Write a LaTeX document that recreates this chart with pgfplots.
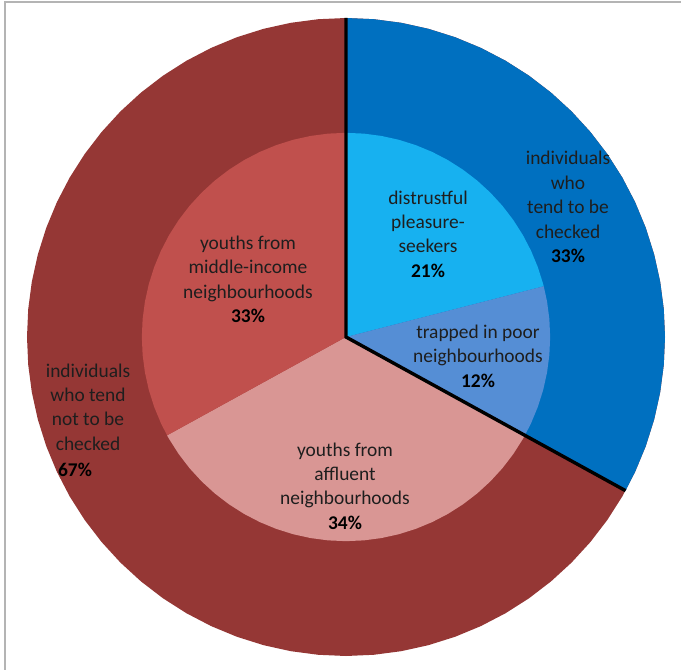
\documentclass[border=0pt]{standalone}
\usepackage{pgfplots}
\pgfplotsset{compat=1.18}
\usepgfplotslibrary{polar}
\usepackage{fontspec}
\setmainfont{Carlito}
\definecolor{outred}{HTML}{953735}
\definecolor{outblue}{HTML}{0070C0}
\definecolor{lblue}{HTML}{17B1F0}
\definecolor{mblue}{HTML}{558ED5}
\definecolor{midred}{HTML}{C0504D}
\definecolor{pink}{HTML}{D99694}
\definecolor{txt}{HTML}{1E1E1E}
\definecolor{frame}{HTML}{B4B4B4}
\begin{document}
\begin{tikzpicture}
\useasboundingbox (0,0) rectangle (681bp,670bp);
\fill[white] (0,0) rectangle (681bp,670bp);
\draw[frame, line width=2bp] (5bp,-20bp) -- (5bp,668bp) -- (700bp,668bp);
\begin{polaraxis}[hide axis, scale only axis, width=638bp, height=638bp,
  ymin=0, ymax=1, at={(346bp,333bp)}, anchor=origin, clip=false]
% outer ring: individuals who tend not to be checked (67%)
\addplot[draw=none, fill=outred] coordinates {
(0,1) (5,1) (10,1) (15,1) (20,1) (25,1) (30,1) (35,1) (40,1) (45,1) (50,1) (55,1) (60,1) (65,1) (70,1) (75,1) (80,1) (85,1) (90,1)
(95,1) (100,1) (105,1) (110,1) (115,1) (120,1) (125,1) (130,1) (135,1) (140,1) (145,1) (150,1) (155,1) (160,1) (165,1) (170,1) (175,1) (180,1)
(185,1) (190,1) (195,1) (200,1) (205,1) (210,1) (215,1) (220,1) (225,1) (230,1) (235,1) (240,1) (245,1) (250,1) (255,1) (260,1) (265,1) (270,1)
(275,1) (280,1) (285,1) (290,1) (295,1) (300,1) (305,1) (310,1) (315,1) (320,1) (325,1) (330,1) (335,1) (340,1) (345,1) (350,1) (355,1) (360,1)} --cycle;
% outer ring: individuals who tend to be checked (33%)
\addplot[draw=none, fill=outblue] coordinates {
(0,0) (90,1) (85,1) (80,1) (75,1) (70,1) (65,1) (60,1) (55,1) (50,1) (45,1) (40,1) (35,1) (30,1) (25,1) (20,1) (15,1) (10,1) (5,1) (0,1)
(-5,1) (-10,1) (-15,1) (-20,1) (-25,1) (-28.8,1) (0,0)} --cycle;
% inner: distrustful pleasure-seekers 21%
\addplot[draw=none, fill=lblue] coordinates {
(0,0) (90,0.64) (85,0.64) (80,0.64) (75,0.64) (70,0.64) (65,0.64) (60,0.64) (55,0.64) (50,0.64) (45,0.64) (40,0.64) (35,0.64) (30,0.64) (25,0.64) (20,0.64) (15,0.64) (14.4,0.64) (0,0)} --cycle;
% inner: trapped in poor neighbourhoods 12%
\addplot[draw=none, fill=mblue] coordinates {
(0,0) (14.4,0.64) (10,0.64) (5,0.64) (0,0.64) (-5,0.64) (-10,0.64) (-15,0.64) (-20,0.64) (-25,0.64) (-28.8,0.64) (0,0)} --cycle;
% inner: youths from affluent neighbourhoods 34%
\addplot[draw=none, fill=pink] coordinates {
(0,0) (-28.8,0.64) (-30,0.64) (-35,0.64) (-40,0.64) (-45,0.64) (-50,0.64) (-55,0.64) (-60,0.64) (-65,0.64) (-70,0.64) (-75,0.64) (-80,0.64) (-85,0.64) (-90,0.64)
(-95,0.64) (-100,0.64) (-105,0.64) (-110,0.64) (-115,0.64) (-120,0.64) (-125,0.64) (-130,0.64) (-135,0.64) (-140,0.64) (-145,0.64) (-150,0.64) (-151.2,0.64) (0,0)} --cycle;
% inner: youths from middle-income neighbourhoods 33%
\addplot[draw=none, fill=midred] coordinates {
(0,0) (-151.2,0.64) (-155,0.64) (-160,0.64) (-165,0.64) (-170,0.64) (-175,0.64) (-180,0.64) (-185,0.64) (-190,0.64) (-195,0.64) (-200,0.64) (-205,0.64) (-210,0.64)
(-215,0.64) (-220,0.64) (-225,0.64) (-230,0.64) (-235,0.64) (-240,0.64) (-245,0.64) (-250,0.64) (-255,0.64) (-260,0.64) (-265,0.64) (-270,0.64) (0,0)} --cycle;
% black separator
\addplot[black, line width=3.4bp, line join=miter] coordinates {(90,1) (0,0) (-28.8,1)};
\end{polaraxis}
\begin{scope}[every node/.style={align=center, text=txt, font=\fontsize{19.5}{24.5}\selectfont, inner sep=0pt}]
\node at (568bp,463bp) {individuals\\who\\tend to be\\checked\\\textbf{\textcolor{black}{33\%}}};
\node at (428bp,436bp) {distrustful\\pleasure-\\seekers\\\textbf{\textcolor{black}{21\%}}};
\node at (478bp,314bp) {trapped in poor\\neighbourhoods\\\textbf{\textcolor{black}{12\%}}};
\node at (248bp,390.5bp) {youths from\\middle-income\\neighbourhoods\\\textbf{\textcolor{black}{33\%}}};
\node at (88bp,263bp) {individuals\\who tend\\not to be\\checked};
\node at (75bp,200bp) {\textbf{\textcolor{black}{67\%}}};
\node at (345bp,184bp) {youths from\\affluent\\neighbourhoods\\\textbf{\textcolor{black}{34\%}}};
\end{scope}
\end{tikzpicture}
\end{document}
